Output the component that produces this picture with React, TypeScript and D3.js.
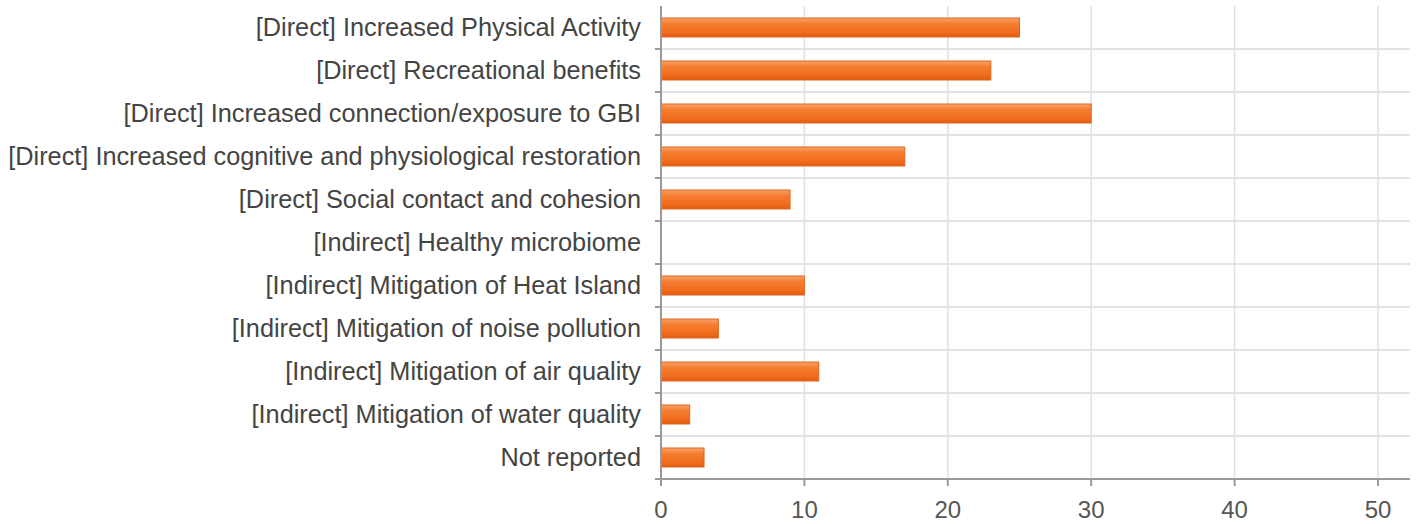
import React from 'react';
import * as d3 from 'd3';

const categories = [
  '[Direct] Increased Physical Activity',
  '[Direct] Recreational benefits',
  '[Direct] Increased connection/exposure to GBI',
  '[Direct] Increased cognitive and physiological restoration',
  '[Direct] Social contact and cohesion',
  '[Indirect] Healthy microbiome',
  '[Indirect] Mitigation of Heat Island',
  '[Indirect] Mitigation of noise pollution',
  '[Indirect] Mitigation of air quality',
  '[Indirect] Mitigation of water quality',
  'Not reported',
];
const counts = [25, 23, 30, 17, 9, 0, 10, 4, 11, 2, 3];
const xTicks = [0, 10, 20, 30, 40, 50];

const W = 1418;
const H = 524;
const plot = { left: 661, right: 1410, top: 6, bottom: 479 };

export default function App() {
  // x scale: 0..50 maps to the gridlines, frame runs a bit past 50
  const x = d3.scaleLinear().domain([0, 50]).range([plot.left, 1378]);
  const y = d3.scaleBand<string>()
    .domain(categories)
    .range([plot.top, plot.bottom])
    .paddingInner(0)
    .paddingOuter(0);
  const bw = y.bandwidth();
  const barH = 19;
  const font = '"Liberation Sans", Arial, sans-serif';

  const boundaries = d3.range(0, categories.length + 1).map(i => plot.top + i * bw);

  return (
    <svg width={W} height={H} style={{ position: 'absolute', left: 0, top: 0, background: '#fff' }}>
      <defs>
        <linearGradient id="barGrad" x1="0" y1="0" x2="0" y2="1">
          <stop offset="0%" stopColor="#f8a36a" />
          <stop offset="30%" stopColor="#f57d30" />
          <stop offset="75%" stopColor="#f16c1e" />
          <stop offset="100%" stopColor="#dc5c12" />
        </linearGradient>
      </defs>

      {/* horizontal guide lines at category boundaries */}
      {boundaries.slice(1, -1).map((b, i) => (
        <line key={'h' + i} x1={plot.left} x2={plot.right} y1={b} y2={b} stroke="#e3e3e3" strokeWidth={2} />
      ))}

      {/* vertical gridlines */}
      {xTicks.slice(1).map(t => (
        <line key={'v' + t} x1={x(t)} x2={x(t)} y1={plot.top} y2={plot.bottom} stroke="#e0e0e0" strokeWidth={1.5} />
      ))}

      {/* bars */}
      {categories.map((c, i) => counts[i] > 0 && (
        <rect
          key={c}
          x={x(0)}
          y={(y(c) as number) + (bw - barH) / 2}
          width={x(counts[i]) - x(0)}
          height={barH}
          fill="url(#barGrad)"
          stroke="#e2661e"
          strokeWidth={1}
        />
      ))}

      {/* left axis with tick marks */}
      <line x1={plot.left} x2={plot.left} y1={plot.top} y2={plot.bottom + 7} stroke="#999" strokeWidth={2} />
      {boundaries.slice(1).map((b, i) => (
        <line key={'lt' + i} x1={plot.left - 6} x2={plot.left} y1={b} y2={b} stroke="#999" strokeWidth={2} />
      ))}

      {/* bottom axis */}
      <line x1={plot.left - 6} x2={plot.right} y1={plot.bottom} y2={plot.bottom} stroke="#999" strokeWidth={2} />
      {xTicks.map(t => (
        <g key={'bt' + t}>
          <line x1={x(t)} x2={x(t)} y1={plot.bottom} y2={plot.bottom + 7} stroke="#999" strokeWidth={2} />
          <text x={x(t)} y={518} textAnchor="middle" fontFamily={font} fontSize={24} fill="#555">{t}</text>
        </g>
      ))}

      {/* category labels */}
      {categories.map(c => (
        <text
          key={'l' + c}
          x={641}
          y={(y(c) as number) + bw / 2}
          dy="0.35em"
          textAnchor="end"
          fontFamily={font}
          fontSize={25.3}
          fill="#444"
        >
          {c}
        </text>
      ))}
    </svg>
  );
}
